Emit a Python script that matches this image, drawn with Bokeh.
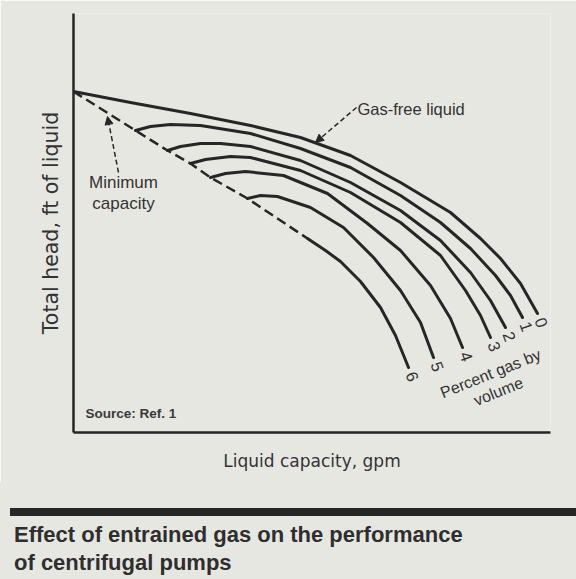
from bokeh.plotting import figure
from bokeh.models import ColumnDataSource, Arrow, NormalHead, FixedTicker, Div
from bokeh.layouts import column
from bokeh.core.properties import value
from bokeh.embed import file_html
from bokeh.resources import INLINE
import math

# ---------------- data (capacity in gpm units, head in ft units; chart has no ticks) -------------
gas_pct = ["0", "1", "2", "3", "4", "5", "6"]

c0_x = [0, 57, 117, 177, 227, 277, 327, 377, 407, 427, 447, 464]
c0_y = [341, 330, 319, 307, 295, 277, 250, 220, 194, 174, 149, 119]

c1_x = [62, 77, 97, 127, 177, 227, 277, 327, 367, 397, 422, 437, 449]
c1_y = [302, 306, 308, 307, 299, 284, 265, 237, 210, 184, 157, 137, 115]

c2_x = [94, 107, 127, 147, 177, 227, 277, 327, 367, 397, 417, 432]
c2_y = [282, 286, 289, 289, 286, 272, 250, 222, 192, 160, 132, 105]

c3_x = [117, 132, 157, 177, 227, 277, 327, 367, 392, 407, 417]
c3_y = [269, 273, 276, 275, 262, 240, 210, 177, 142, 117, 95]

c4_x = [137, 152, 172, 210, 254, 294, 327, 357, 377, 389]
c4_y = [255, 259, 261, 257, 239, 209, 182, 147, 114, 85]

c5_x = [174, 187, 204, 237, 270, 300, 327, 347, 360]
c5_y = [234, 237, 236, 225, 205, 175, 142, 110, 75]

c6_x = [234, 252, 267, 287, 307, 322, 335]
c6_y = [194, 182, 171, 151, 125, 97, 65]

curves_x = [c0_x, c1_x, c2_x, c3_x, c4_x, c5_x, c6_x]
curves_y = [c0_y, c1_y, c2_y, c3_y, c4_y, c5_y, c6_y]

# minimum-capacity line: shutoff point and the start of each gassy curve
min_x = [c0_x[0]] + [cx[0] for cx in curves_x[1:]]
min_y = [c0_y[0]] + [cy[0] for cy in curves_y[1:]]

caption_lines = ["Effect of entrained gas on the performance", "of centrifugal pumps"]

# ---------------- style -------------
BG = "#e7e7e2"
INK = "#262626"
TXT = "#333333"
SANS = "Liberation Sans"

p = figure(frame_width=477, frame_height=419, x_range=(0, 477), y_range=(0, 419),
           output_backend="svg", toolbar_location=None,
           min_border_left=73, min_border_right=26, min_border_top=13, min_border_bottom=50,
           background_fill_color=BG, border_fill_color=BG)
p.outline_line_color = None
p.grid.visible = False

for ax in (p.xaxis[0], p.yaxis[0]):
    ax.ticker = FixedTicker(ticks=[])
    ax.major_label_text_font_size = "0px"
    ax.major_tick_in = 0
    ax.major_tick_out = 0
    ax.minor_tick_in = 0
    ax.minor_tick_out = 0
    ax.major_label_standoff = 0
    ax.axis_line_width = 2.5
    ax.axis_line_color = INK
    ax.axis_label_text_font = "DejaVu Sans"
    ax.axis_label_text_font_size = "17px"
    ax.axis_label_text_font_style = "normal"
    ax.axis_label_text_color = TXT

p.xaxis.axis_label = "Liquid capacity, gpm"
p.xaxis.axis_label_standoff = 18
p.yaxis.axis_label = "Total head, ft of liquid"
p.yaxis.axis_label_standoff = 11
p.yaxis.axis_label_text_font_size = "20.5px"

# curves
p.multi_line(xs=curves_x, ys=curves_y, line_color=INK, line_width=3,
             line_join="round", line_cap="round")
p.line(min_x, min_y, line_color=INK, line_width=2.5, line_dash="10 5")

# curve end labels
end_src = ColumnDataSource(dict(x=[cx[-1] for cx in curves_x],
                                y=[cy[-1] for cy in curves_y],
                                t=gas_pct))
p.text(x="x", y="y", text="t", source=end_src, x_offset=4, y_offset=9,
       angle=math.radians(-70), text_align="center", text_baseline="middle",
       text_font=value(SANS), text_font_size="16.5px", text_color=TXT)

# annotation texts
p.text(x=[417, 425], y=[59, 41], text=["Percent gas by", "volume"],
       angle=math.radians(21.8), text_align="center", text_baseline="middle",
       text_font=value(SANS), text_font_size="16px", text_color=TXT)
p.text(x=[50, 50], y=[250, 229], text=["Minimum", "capacity"],
       text_align="center", text_baseline="middle",
       text_font=value(SANS), text_font_size="17px", text_color=TXT)
p.text(x=[284], y=[324], text=["Gas-free liquid"],
       text_align="left", text_baseline="middle",
       text_font=value(SANS), text_font_size="16.5px", text_color=TXT)
p.text(x=[12], y=[19], text=["Source: Ref. 1"],
       text_align="left", text_baseline="middle",
       text_font=value(SANS), text_font_size="13.5px", text_font_style="bold",
       text_color="#3a3a3a")

# arrows
p.add_layout(Arrow(x_start=45, y_start=260, x_end=34, y_end=316,
                   line_color=INK, line_width=1.5, line_dash="5 3",
                   end=NormalHead(size=8, fill_color=INK, line_color=INK)))
p.add_layout(Arrow(x_start=283, y_start=325, x_end=242, y_end=290,
                   line_color=INK, line_width=1.5, line_dash="5 3",
                   end=NormalHead(size=8, fill_color=INK, line_color=INK)))

# ---------------- caption (below the chart) -------------
cap_html = (
    f'<div style="position:relative;width:576px;height:97px;background:{BG};overflow:hidden;">'
    f'<div style="position:absolute;left:10px;top:26px;width:566px;height:8px;background:{INK};"></div>'
    f'<div style="position:absolute;left:14px;top:39px;font-family:\'{SANS}\';font-weight:bold;'
    f'font-size:22px;line-height:28px;color:#2e2e2e;white-space:nowrap;">'
    + "<br>".join(caption_lines) +
    '</div></div>'
)
cap = Div(text=cap_html, width=576, height=97, margin=0)

layout = column(p, cap, spacing=0)
open("out.html", "w").write(file_html(layout, INLINE))
